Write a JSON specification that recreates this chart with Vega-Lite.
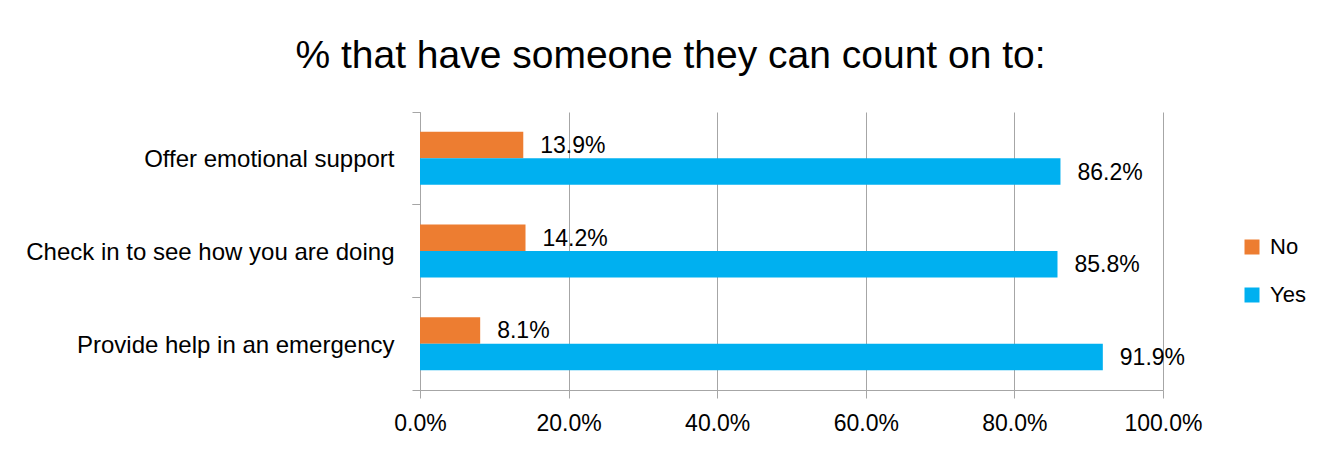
{
  "$schema": "https://vega.github.io/schema/vega-lite/v6.json",
  "width": 743,
  "height": 278,
  "autosize": {"type": "none"},
  "padding": {"left": 420, "top": 112, "right": 167, "bottom": 64},
  "background": "white",
  "title": {
    "text": "% that have someone they can count on to:",
    "fontSize": 39,
    "font": "Liberation Sans",
    "fontWeight": "normal",
    "color": "#000000",
    "anchor": "middle",
    "frame": "group",
    "dx": -121,
    "offset": 36
  },
  "data": {
    "values": [
      {"item": "Offer emotional support", "resp": "No", "pct": 0.139},
      {"item": "Offer emotional support", "resp": "Yes", "pct": 0.862},
      {"item": "Check in to see how you are doing", "resp": "No", "pct": 0.142},
      {"item": "Check in to see how you are doing", "resp": "Yes", "pct": 0.858},
      {"item": "Provide help in an emergency", "resp": "No", "pct": 0.081},
      {"item": "Provide help in an emergency", "resp": "Yes", "pct": 0.919}
    ]
  },
  "encoding": {
    "yOffset": {
      "field": "resp",
      "type": "nominal",
      "sort": ["No", "Yes"],
      "scale": {"paddingInner": 0, "paddingOuter": 0.75}
    }
  },
  "layer": [
    {
      "mark": {"type": "bar"},
      "encoding": {
        "y": {
          "field": "item",
          "type": "nominal",
          "sort": ["Offer emotional support", "Check in to see how you are doing", "Provide help in an emergency"],
          "scale": {"paddingInner": 0, "paddingOuter": 0},
          "axis": {
            "title": null,
            "orient": "left",
            "labelFontSize": 24,
            "labelFont": "Liberation Sans",
            "labelColor": "#000000",
            "labelLimit": 600,
            "labelPadding": 18,
            "labelOffset": 2,
            "tickSize": 8,
            "tickColor": "#a6a6a6",
            "domainColor": "#a6a6a6",
            "bandPosition": 0,
            "grid": false
          }
        },
        "x": {
          "field": "pct",
          "type": "quantitative",
          "scale": {"domain": [0, 1]},
          "axis": {
            "title": null,
            "values": [0, 0.2, 0.4, 0.6, 0.8, 1],
            "format": ".1%",
            "labelFontSize": 23,
            "labelFont": "Liberation Sans",
            "labelColor": "#000000",
            "labelPadding": 14,
            "tickSize": 8,
            "tickColor": "#a6a6a6",
            "domainColor": "#a6a6a6",
            "grid": true,
            "gridColor": "#a6a6a6",
            "labelFlush": false
          }
        },
        "color": {
          "field": "resp",
          "type": "nominal",
          "scale": {"domain": ["No", "Yes"], "range": ["#ED7D31", "#00B0F0"]},
          "legend": {
            "title": null,
            "orient": "none",
            "legendX": 821,
            "legendY": 124,
            "symbolType": "square",
            "symbolSize": 225,
            "symbolStrokeWidth": 0,
            "labelFontSize": 22,
            "labelFont": "Liberation Sans",
            "labelColor": "#000000",
            "labelOffset": 7,
            "rowPadding": 26
          }
        }
      }
    },
    {
      "mark": {"type": "text", "align": "left", "baseline": "middle", "dx": 17, "dy": 1, "fontSize": 23, "font": "Liberation Sans", "color": "#000000"},
      "encoding": {
        "y": {
          "field": "item",
          "type": "nominal",
          "sort": ["Offer emotional support", "Check in to see how you are doing", "Provide help in an emergency"],
          "axis": {
            "title": null,
            "orient": "left",
            "labels": false,
            "domain": false,
            "grid": false,
            "tickSize": 8,
            "tickColor": "#a6a6a6",
            "bandPosition": 1
          }
        },
        "x": {"field": "pct", "type": "quantitative"},
        "text": {"field": "pct", "type": "quantitative", "format": ".1%"}
      }
    }
  ],
  "resolve": {"axis": {"y": "independent"}},
  "config": {"view": {"stroke": null}}
}
